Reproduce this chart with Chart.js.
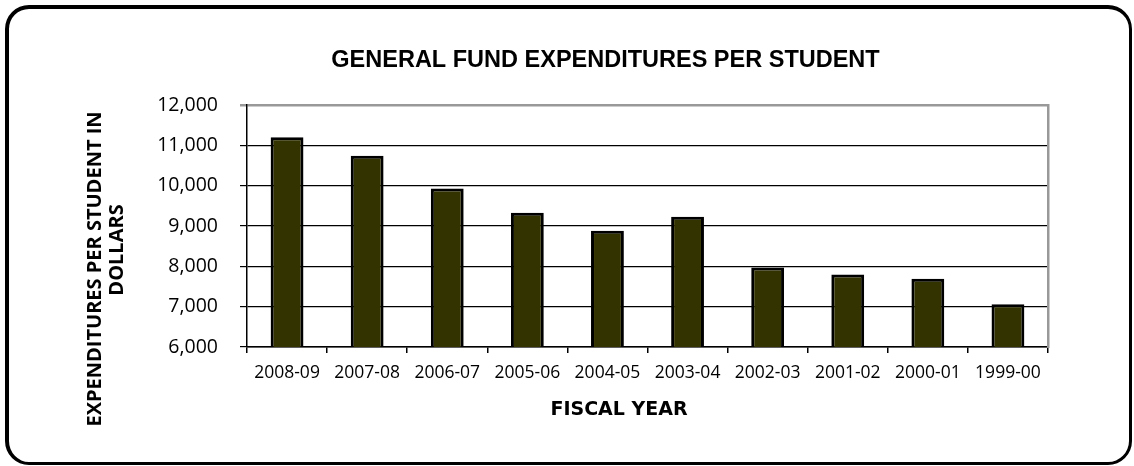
<!DOCTYPE html>
<html>
<head>
<meta charset="utf-8">
<script src="https://cdn.jsdelivr.net/npm/chart.js@4/dist/chart.umd.min.js"></script>
<style>
  html, body { margin: 0; padding: 0; background: #fff; }
  #wrap { position: relative; width: 1134px; height: 466px; }
  #frame {
    position: absolute; left: 5px; top: 5px; width: 1127px; height: 460px;
    box-sizing: border-box; border-style: solid; border-color: #000;
    border-width: 4px 3px 3px 4px; border-radius: 24px; pointer-events: none;
  }
  canvas { position: absolute; left: 0; top: 0; }
</style>
</head>
<body>
<div id="wrap">
  <canvas id="chart" width="1134" height="466"></canvas>
  <div id="frame"></div>
</div>
<script>
// fiscal years, newest first as in the report
const fiscalYears = ['2008-09', '2007-08', '2006-07', '2005-06', '2004-05',
                     '2003-04', '2002-03', '2001-02', '2000-01', '1999-00'];
// dollars per student
const perStudent = [11200, 10740, 9930, 9330, 8880, 9230, 7970, 7800, 7690, 7060];
const yTicks = [6000, 7000, 8000, 9000, 10000, 11000, 12000];

const chartTitle = 'GENERAL FUND EXPENDITURES PER STUDENT';
const yTitle = ['EXPENDITURES PER STUDENT IN', 'DOLLARS'];
const xTitle = 'FISCAL YEAR';

// axis titles sit off-centre in the original, so they are drawn here
const axisTitles = {
  id: 'axisTitles',
  afterDraw(chart) {
    const ctx = chart.ctx;
    ctx.save();
    ctx.fillStyle = '#000';
    ctx.textAlign = 'center';
    ctx.textBaseline = 'middle';
    ctx.font = 'bold 20px "Open Sans"';
    ctx.save();
    ctx.translate(95.5, 269);
    ctx.rotate(-Math.PI / 2);
    ctx.fillText(yTitle[0], 0, 0);
    ctx.restore();
    ctx.save();
    ctx.translate(117.5, 250);
    ctx.rotate(-Math.PI / 2);
    ctx.fillText(yTitle[1], 0, 0);
    ctx.restore();
    ctx.font = 'bold 19px "DejaVu Sans"';
    ctx.fillText(xTitle, 619, 410);
    ctx.restore();
  }
};

new Chart(document.getElementById('chart').getContext('2d'), {
  type: 'bar',
  data: {
    labels: fiscalYears,
    datasets: [{
      data: perStudent,
      backgroundColor: '#333300',
      borderColor: '#000',
      borderWidth: 3,
      borderSkipped: false,
      barPercentage: 0.41,
      categoryPercentage: 1
    }]
  },
  options: {
    responsive: false,
    animation: false,
    layout: { padding: { left: 150, right: 73, top: 0, bottom: 0 } },
    plugins: {
      legend: { display: false },
      tooltip: { enabled: false },
      title: {
        display: true,
        text: chartTitle,
        color: '#000',
        font: { family: '"Liberation Sans", Arial', size: 23.5, weight: 'bold', lineHeight: 1.2 },
        padding: { top: 46, bottom: 30.8 }
      }
    },
    scales: {
      x: {
        grid: { offset: true, drawOnChartArea: false, drawTicks: true, tickLength: 6, color: '#000', lineWidth: 1.5 },
        border: { color: '#000', width: 1.5 },
        ticks: { color: '#000', padding: 10, font: { family: '"Open Sans"', size: 17.5 }, maxRotation: 0 },
        afterFit(scale) { scale.height = 119; }
      },
      y: {
        min: 6000,
        max: 12000,
        afterBuildTicks(scale) { scale.ticks = yTicks.map(v => ({ value: v })); },
        grid: {
          color: ctx => (ctx.tick && ctx.tick.value === 12000 ? '#999' : '#000'),
          lineWidth: ctx => (ctx.tick && ctx.tick.value === 12000 ? 2.5 : 1.2),
          tickLength: 7
        },
        border: { color: '#000', width: 1.5 },
        ticks: {
          color: '#000',
          padding: 22,
          font: { family: '"Open Sans"', size: 19.5 },
          callback: v => v.toLocaleString('en-US')
        },
        afterFit(scale) { scale.width = 97; }
      },
      y2: {
        position: 'right',
        grid: { display: false, drawTicks: false },
        ticks: { display: false },
        border: { display: true, color: '#999', width: 2.5 },
        afterFit(scale) { scale.width = 13; }
      }
    }
  },
  plugins: [axisTitles]
});
</script>
</body>
</html>
